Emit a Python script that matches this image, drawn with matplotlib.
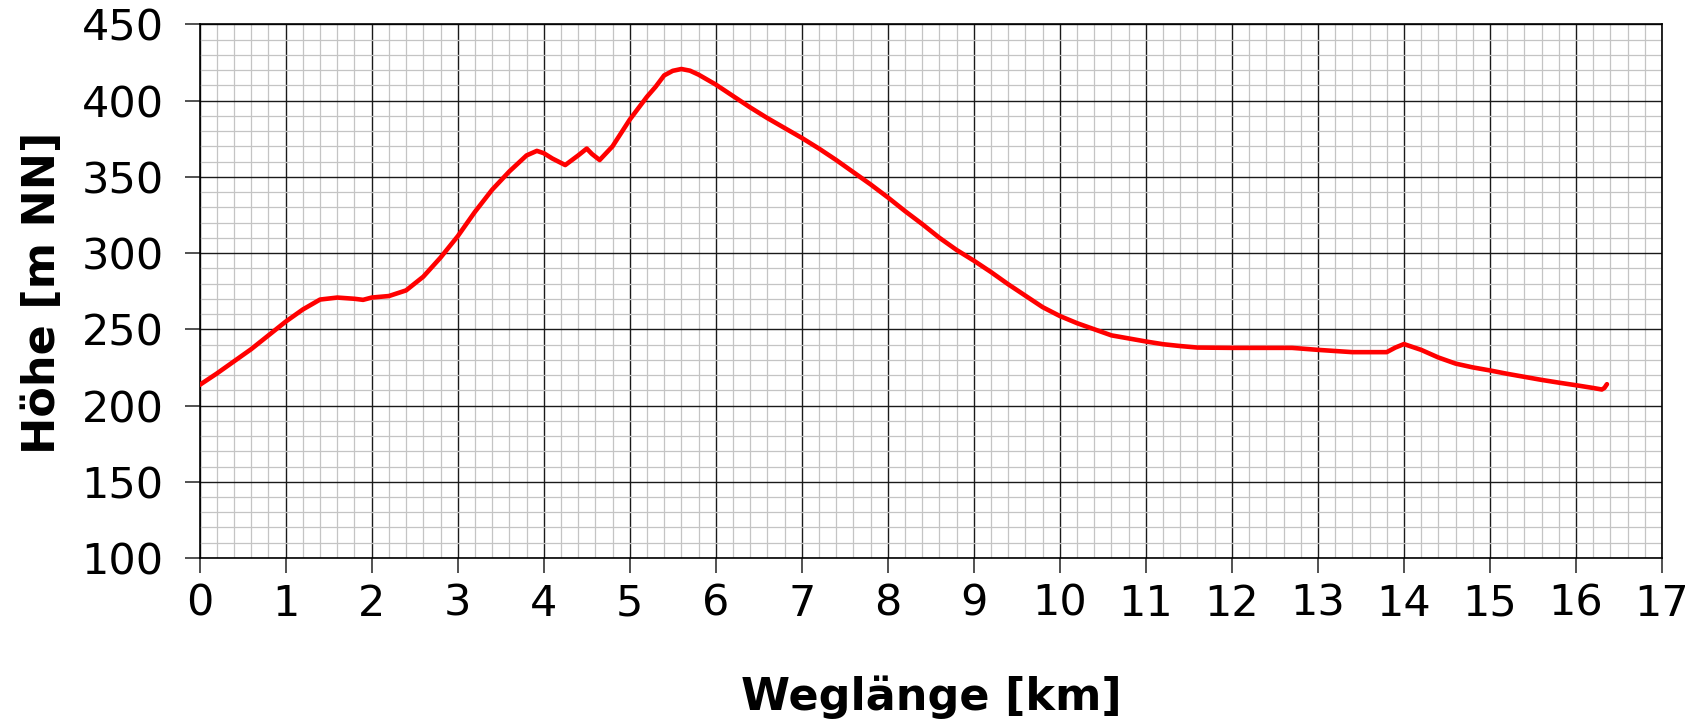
import matplotlib
matplotlib.use("Agg")
import matplotlib.pyplot as plt
from matplotlib.ticker import MultipleLocator

# elevation profile
km = [0.0, 0.2, 0.4, 0.6, 0.8, 1.0, 1.2, 1.4, 1.6, 1.8, 1.9, 2.0, 2.2, 2.4,
      2.6, 2.8, 3.0, 3.2, 3.4, 3.6, 3.8, 3.92, 4.0, 4.1, 4.25, 4.4, 4.5,
      4.56, 4.65, 4.8, 5.0, 5.2, 5.3, 5.4, 5.5, 5.6, 5.7, 5.8, 6.0, 6.2,
      6.4, 6.6, 6.8, 7.0, 7.2, 7.4, 7.6, 7.8, 8.0, 8.2, 8.4, 8.6, 8.8, 9.0,
      9.2, 9.4, 9.6, 9.8, 10.0, 10.2, 10.4, 10.6, 10.8, 11.0, 11.2, 11.4,
      11.6, 12.0, 12.4, 12.7, 13.0, 13.4, 13.8, 13.9, 14.0, 14.2, 14.4,
      14.6, 14.8, 15.0, 15.2, 15.4, 15.6, 15.8, 16.0, 16.2, 16.3, 16.33,
      16.36]
hoehe = [213.5, 221, 229, 237, 246, 255, 263, 269.5, 270.8, 270, 269.3,
         270.8, 271.8, 275.5, 284.5, 297, 311, 327, 341.5, 353.5, 364, 367,
         365.5, 362, 357.7, 364, 368.5, 365, 361, 370, 387.5, 402.5, 409,
         416.5, 419.5, 420.7, 419.6, 417, 410.5, 403, 395.5, 388.5, 382,
         375.5, 368.5, 361, 353, 345, 336.5, 327.5, 319, 310, 302, 295,
         287.5, 279.5, 272, 264.5, 258.7, 254, 250, 246, 244, 242, 240.2,
         239, 238, 237.8, 237.8, 237.8, 236.5, 235, 235, 238, 240.3, 236.5,
         231.5, 227.5, 225, 223, 220.8, 218.8, 216.8, 215, 213.3, 211.5,
         210.5, 211.5, 214]

fig = plt.figure(figsize=(17.02, 7.24), dpi=100)
ax = fig.add_axes([0.1173, 0.2293, 0.8592, 0.7371])

ax.plot(km, hoehe, color="#ff0000", linewidth=3.3, solid_joinstyle="round",
        solid_capstyle="round", zorder=3)

ax.set_xlim(0, 17)
ax.set_ylim(100, 450)
ax.xaxis.set_major_locator(MultipleLocator(1))
ax.xaxis.set_minor_locator(MultipleLocator(0.2))
ax.yaxis.set_major_locator(MultipleLocator(50))
ax.yaxis.set_minor_locator(MultipleLocator(10))

ax.grid(which="minor", color="#c4c4c4", linewidth=0.9)
ax.grid(which="major", color="#1a1a1a", linewidth=1.0)
ax.set_axisbelow(True)

for s in ax.spines.values():
    s.set_color("black")
    s.set_linewidth(1.2)

ax.tick_params(which="major", direction="out", length=11, width=1.2,
               color="#333333", labelsize=31)
ax.tick_params(which="minor", length=0)
ax.tick_params(axis="y", pad=15)
ax.tick_params(axis="x", pad=7)

fig.text(0.547, 0.037, "Weglänge [km]", fontsize=32, fontweight="bold",
         ha="center", va="center")
fig.text(0.0247, 0.595, "Höhe [m NN]", fontsize=32, fontweight="bold",
         ha="center", va="center", rotation=90)

plt.savefig("out.png", dpi=100)
